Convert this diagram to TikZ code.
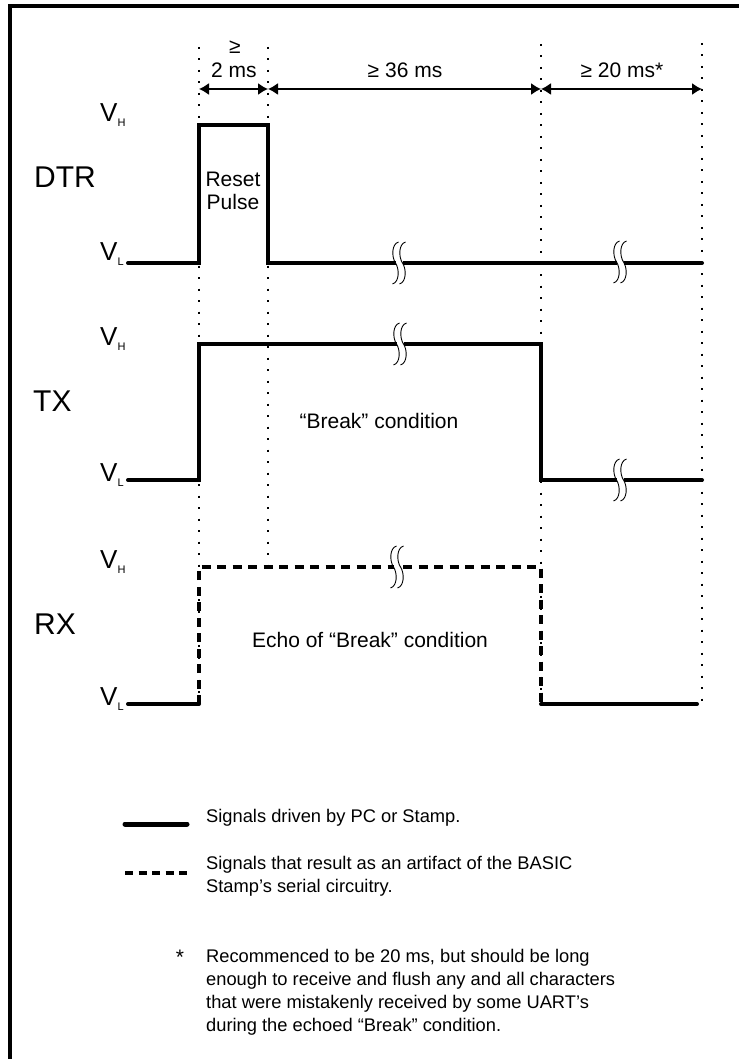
\documentclass[tikz,border=0pt]{standalone}
\usepackage{fontspec}
\setmainfont{Liberation Sans}
\usetikzlibrary{arrows.meta,positioning}

\newcommand\vlev[1]{V\raisebox{-5pt}{\fontsize{11}{11}\selectfont #1}}

\begin{document}
\begin{tikzpicture}[
    x=1pt, y=-1pt,
    font=\fontsize{21}{23}\selectfont,
    sig/.style={line width=4pt, line join=miter, line cap=round},
    echo/.style={line width=4pt, dash pattern=on 9pt off 6.5pt},
    guide/.style={line width=1.8pt, dash pattern=on 2pt off 9.5pt},
    dim/.style={{Latex[length=10pt,width=12pt]}-{Latex[length=10pt,width=12pt]}, line width=1.5pt},
    sname/.style={font=\fontsize{30}{30}\selectfont, anchor=west, inner sep=0pt},
    lvl/.style={font=\fontsize{26}{26}\selectfont, anchor=base west, inner sep=0pt},
    txt/.style={inner sep=0pt, align=center},
    note/.style={inner sep=0pt, align=left, anchor=west, font=\fontsize{18.3}{23}\selectfont},
    brk/.pic={
      \fill[white] (-3.5,-3) rectangle (3.5,3);
      \foreach \dx in {-3.5,3.5}
        \draw[line width=0.9pt, shift={(\dx,0)}] (3,-21) .. controls (-4,-19) and (-4,-6) .. (0,0) .. controls (4,6) and (4,19) .. (-3,21);
    }
  ]
    \useasboundingbox (0,0) rectangle (743,1059);
    \draw[line width=3.5pt] (10,1059) -- (10,6) -- (739,6);

    % time marks and levels
    \coordinate (t0) at (199,47);
    \coordinate (t1) at (268,47);
    \coordinate (t2) at (541,44);
    \coordinate (t3) at (702,43);
    \coordinate (s) at (128,0);
    \coordinate (dimy) at (0,89);
    \coordinate (dtrH) at (0,125);
    \coordinate (dtrL) at (0,263);
    \coordinate (txH) at (0,344);
    \coordinate (txL) at (0,480);
    \coordinate (rxH) at (0,567);
    \coordinate (rxL) at (0,704);

    \draw[guide] (t0) -- (t0 |- rxL);
    \draw[guide] (t1) -- (t1 |- rxH);
    \draw[guide] (t2) -- (t2 |- rxL);
    \draw[guide] (t3) -- (t3 |- rxL);

    \draw[dim] (t0 |- dimy) -- (t1 |- dimy);
    \draw[dim] (t1 |- dimy) -- (t2 |- dimy);
    \draw[dim] (t2 |- dimy) -- (t3 |- dimy);
    \node[txt] (ge) at (235,47) {≥};
    \node[txt] (w1) at (234,70) {2 ms};
    \node[txt] (w2) at (405,70) {≥ 36 ms};
    \node[txt] (w3) at (622,70) {≥ 20 ms*};

    % signal names and levels
    \node[sname] (dtr) at (34,177) {DTR};
    \node[sname] (tx) at (33,401) {TX};
    \node[sname] (rx) at (34,624) {RX};
    \node[lvl] (dtrVH) at (100,122) {\vlev{H}};
    \node[lvl] (dtrVL) at (100,261) {\vlev{L}};
    \node[lvl] (txVH) at (100,345) {\vlev{H}};
    \node[lvl] (txVL) at (100,481) {\vlev{L}};
    \node[lvl] (rxVH) at (100,568) {\vlev{H}};
    \node[lvl] (rxVL) at (100,705) {\vlev{L}};

    % signals
    \draw[sig] (s |- dtrL) -- (t0 |- dtrL) -- (t0 |- dtrH) -- (t1 |- dtrH) -- (t1 |- dtrL) -- (t3 |- dtrL);
    \draw[sig] (s |- txL) -- (t0 |- txL) -- (t0 |- txH) -- (t2 |- txH) -- (t2 |- txL) -- (t3 |- txL);
    \draw[sig] (s |- rxL) -- (t0 |- rxL);
    \draw[echo] (t0 |- rxL) -- (t0 |- rxH) -- (t2 |- rxH) -- (t2 |- rxL);
    \draw[sig] (t2 |- rxL) -- (697,704);

    \pic at (399,263) {brk};
    \pic at (620,262) {brk};
    \pic at (400,344) {brk};
    \pic at (620,480) {brk};
    \pic at (397,567) {brk};

    \node[txt] (reset) at (233,191) {Reset\\Pulse};
    \node[txt] (brkc) at (379,421) {“Break” condition};
    \node[txt] (echoc) at (370,640) {Echo of “Break” condition};

    % legend
    \draw[sig, line width=5pt] (125,824) -- (187,824);
    \node[note] (k1) at (206,818) {Signals driven by PC or Stamp.};
    \draw[line width=4pt, dash pattern=on 8pt off 5.5pt] (125,873) -- (187,873);
    \node[note] (k2) at (206,876) {Signals that result as an artifact of the BASIC\\Stamp’s serial circuitry.};
    \node[inner sep=0pt, anchor=base] (star) at (180,964) {*};
    \node[note] (k3) at (206,992) {Recommenced to be 20 ms, but should be long\\enough to receive and flush any and all characters\\that were mistakenly received by some UART’s\\during the echoed “Break” condition.};
\end{tikzpicture}
\end{document}
